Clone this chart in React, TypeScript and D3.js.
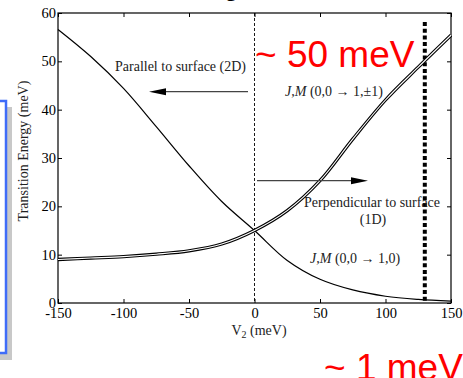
import React, { useRef, useEffect } from "react";
import * as d3 from "d3";

// valores leídos a ojo de la figura original
const vTicks = [-150, -100, -50, 0, 50, 100, 150];
const eTicks = [0, 10, 20, 30, 40, 50, 60];
const vSamples = [-150, -125, -100, -75, -50, -25, 0, 25, 50, 75, 100, 125, 150];
const parallelEnergy = [56.6, 51.0, 44.4, 36.5, 28.4, 21.0, 15.0, 8.8, 4.9, 2.7, 1.4, 0.75, 0.4];
const perpendicularEnergy = [9.0, 9.3, 9.6, 10.1, 10.8, 12.2, 15.0, 19.1, 25.3, 33.9, 42.0, 48.8, 55.4];
const markerV = 130;

const App = () => {
  const ref = useRef<SVGSVGElement>(null);

  useEffect(() => {
    const W = 463;
    const H = 378;
    const left = 58, right = 451, top = 13, bottom = 303;
    const serif = "'Liberation Serif', 'Times New Roman', serif";
    const sans = "'Liberation Sans', Arial, sans-serif";

    const svg = d3.select(ref.current);
    svg.selectAll("*").remove();
    svg.attr("width", W).attr("height", H);

    const x = d3.scaleLinear().domain([-150, 150]).range([left, right]);
    const y = d3.scaleLinear().domain([0, 60]).range([bottom, top]);

    // caja azul recortada a la izquierda (con sombra)
    svg.append("rect").attr("x", -10).attr("y", 107).attr("width", 22).attr("height", 253).attr("fill", "#c8c8c8");
    svg.append("rect").attr("x", -10).attr("y", 101).attr("width", 16).attr("height", 252)
      .attr("fill", "#fff").attr("stroke", "#3f6cf8").attr("stroke-width", 2.5);

    // título cortado arriba
    svg.append("text").attr("x", 239).attr("y", -4).attr("text-anchor", "end")
      .attr("font-family", sans).attr("font-weight", "bold").attr("font-size", 24).text("g");

    // ejes
    const fmt = (d: any) => String(d);
    const axB = svg.append("g").attr("transform", `translate(0,${bottom})`)
      .call(d3.axisBottom(x).tickValues(vTicks).tickSize(-4).tickPadding(5).tickFormat(fmt));
    const axL = svg.append("g").attr("transform", `translate(${left},0)`)
      .call(d3.axisLeft(y).tickValues(eTicks).tickSize(-4).tickPadding(2).tickFormat(fmt));
    const axT = svg.append("g").attr("transform", `translate(0,${top})`)
      .call(d3.axisTop(x).tickValues(vTicks).tickSize(-4).tickFormat(() => ""));
    const axR = svg.append("g").attr("transform", `translate(${right},0)`)
      .call(d3.axisRight(y).tickValues(eTicks).tickSize(-4).tickFormat(() => ""));
    [axB, axL, axT, axR].forEach((g) => {
      g.select(".domain").remove();
      g.selectAll("line").attr("stroke", "#000");
      g.selectAll("text").attr("font-family", serif).attr("font-size", 14.5).attr("fill", "#000");
    });
    svg.append("rect").attr("x", left).attr("y", top).attr("width", right - left).attr("height", bottom - top)
      .attr("fill", "none").attr("stroke", "#000").attr("stroke-width", 1.2);

    // líneas verticales
    svg.append("line").attr("x1", x(0)).attr("x2", x(0)).attr("y1", top).attr("y2", bottom)
      .attr("stroke", "#000").attr("stroke-width", 0.9).attr("stroke-dasharray", "3,2");
    svg.append("line").attr("x1", x(markerV)).attr("x2", x(markerV)).attr("y1", 22).attr("y2", bottom)
      .attr("stroke", "#000").attr("stroke-width", 4).attr("stroke-dasharray", "4,2.7");

    // curvas
    const line = d3.line<number>()
      .x((d, i) => x(vSamples[i]))
      .y((d) => y(d))
      .curve(d3.curveCatmullRom.alpha(0.5));

    svg.append("path").attr("d", line(parallelEnergy)).attr("fill", "none")
      .attr("stroke", "#000").attr("stroke-width", 1.2);
    svg.append("path").attr("d", line(perpendicularEnergy)).attr("fill", "none")
      .attr("stroke", "#000").attr("stroke-width", 3.3);
    svg.append("path").attr("d", line(perpendicularEnergy)).attr("fill", "none")
      .attr("stroke", "#fff").attr("stroke-width", 1.1);

    // flechas
    const arrow = (x1: number, x2: number, yy: number) => {
      const dir = Math.sign(x2 - x1);
      svg.append("line").attr("x1", x1).attr("x2", x2 - dir * 14).attr("y1", yy).attr("y2", yy)
        .attr("stroke", "#444").attr("stroke-width", 1.3);
      svg.append("path")
        .attr("d", `M${x2},${yy}L${x2 - dir * 17},${yy - 3.5}L${x2 - dir * 17},${yy + 3.5}Z`)
        .attr("fill", "#000");
    };
    arrow(248, 149, 91.7);
    arrow(257, 368, 180.7);

    // textos
    const txt = (tx: number, ty: number, s: string, anchor = "start") =>
      svg.append("text").attr("x", tx).attr("y", ty).attr("text-anchor", anchor)
        .attr("font-family", serif).attr("font-size", 14).attr("fill", "#222").text(s);

    txt(115, 71, "Parallel to surface (2D)");
    txt(304, 207, "Perpendicular to surface");
    txt(373, 224, "(1D)", "middle");

    const jm = (tx: number, ty: number, rest: string) => {
      const t = svg.append("text").attr("x", tx).attr("y", ty)
        .attr("font-family", serif).attr("font-size", 14).attr("fill", "#222");
      t.append("tspan").attr("font-style", "italic").text("J,M");
      t.append("tspan").text(" " + rest);
    };
    jm(285, 96, "(0,0 \u2192 1,\u00b11)");
    jm(310, 263, "(0,0 \u2192 1,0)");

    svg.append("text").attr("x", 255).attr("y", 67).attr("font-family", sans)
      .attr("font-size", 37).attr("fill", "#ff0000").text("~ 50 meV");
    svg.append("text").attr("x", 324).attr("y", 380).attr("font-family", sans)
      .attr("font-size", 37).attr("fill", "#ff0000").text("~ 1 meV");

    // títulos de ejes
    const xl = svg.append("text").attr("x", 259).attr("y", 335).attr("text-anchor", "middle")
      .attr("font-family", serif).attr("font-size", 14).attr("fill", "#222");
    xl.append("tspan").text("V");
    xl.append("tspan").attr("font-size", 10).attr("dy", 3).text("2");
    xl.append("tspan").attr("dy", -3).text(" (meV)");

    svg.append("text").attr("transform", "translate(28,151) rotate(-90)").attr("text-anchor", "middle")
      .attr("font-family", serif).attr("font-size", 14).attr("fill", "#222")
      .text("Transition Energy (meV)");
  }, []);

  return <svg ref={ref} style={{ position: "absolute", left: 0, top: 0, display: "block" }} />;
};

export default App;
